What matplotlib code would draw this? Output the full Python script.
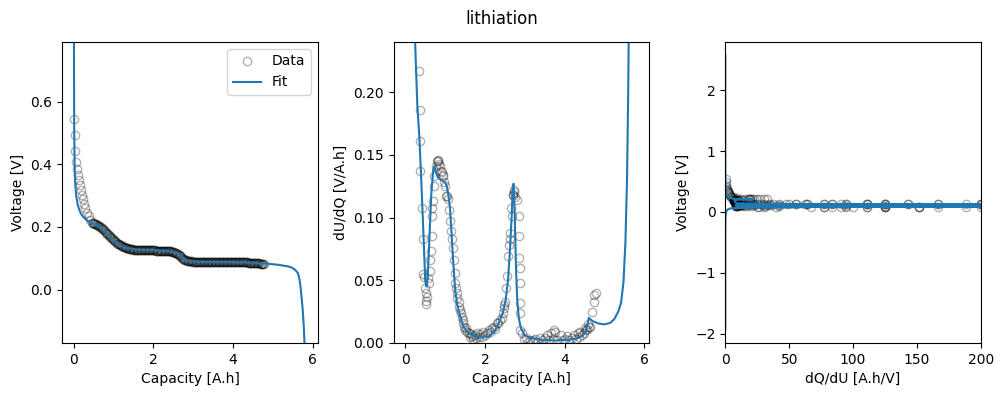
import numpy as np
import matplotlib.pyplot as plt

# measured OCP data (capacity [A.h], voltage [V])
data_capacity = [
    0.00, 0.025, 0.025, 0.05, 0.075, 0.11, 0.134, 0.16, 0.175, 0.20, 0.226, 0.26, 0.29, 0.33, 0.37, 0.41,
    0.46, 0.48, 0.50, 0.52, 0.54, 0.56, 0.58, 0.60, 0.62, 0.64,
    0.66, 0.68, 0.70, 0.72, 0.74, 0.76, 0.78, 0.80, 0.82, 0.84,
    0.86, 0.88, 0.90, 0.92, 0.94, 0.96, 0.98, 1.00, 1.02, 1.04,
    1.06, 1.08, 1.10, 1.12, 1.14, 1.16, 1.18, 1.20, 1.22, 1.24,
    1.26, 1.28, 1.30, 1.32, 1.34, 1.36, 1.38, 1.40, 1.42, 1.44,
    1.46, 1.48, 1.50, 1.52, 1.54, 1.56, 1.58, 1.60, 1.62, 1.64,
    1.66, 1.68, 1.70, 1.72, 1.74, 1.76, 1.78, 1.80, 1.82, 1.84,
    1.86, 1.88, 1.90, 1.92, 1.94, 1.96, 1.98, 2.00, 2.02, 2.04,
    2.06, 2.08, 2.10, 2.12, 2.14, 2.16, 2.18, 2.20, 2.22, 2.24,
    2.26, 2.28, 2.30, 2.32, 2.34, 2.36, 2.38, 2.40, 2.42, 2.44,
    2.46, 2.48, 2.50, 2.52, 2.54, 2.56, 2.58, 2.60, 2.62, 2.64,
    2.66, 2.68, 2.70, 2.72, 2.74, 2.76, 2.78, 2.80, 2.82, 2.84,
    2.86, 2.88, 2.90, 2.92, 2.94, 2.96, 2.98, 3.00, 3.02, 3.04,
    3.06, 3.08, 3.10, 3.12, 3.14, 3.16, 3.18, 3.20, 3.22, 3.24,
    3.26, 3.28, 3.30, 3.32, 3.34, 3.36, 3.38, 3.40, 3.42, 3.44,
    3.46, 3.48, 3.50, 3.52, 3.54, 3.56, 3.58, 3.60, 3.62, 3.64,
    3.66, 3.68, 3.70, 3.72, 3.74, 3.76, 3.78, 3.80, 3.82, 3.84,
    3.86, 3.88, 3.90, 3.92, 3.94, 3.96, 3.98, 4.00, 4.02, 4.04,
    4.06, 4.08, 4.10, 4.12, 4.14, 4.16, 4.18, 4.20, 4.22, 4.24,
    4.26, 4.28, 4.30, 4.32, 4.34, 4.36, 4.38, 4.40, 4.42, 4.44,
    4.46, 4.48, 4.50, 4.52, 4.54, 4.56, 4.58, 4.60, 4.62, 4.64,
    4.66, 4.68, 4.70, 4.72, 4.74, 4.76, 4.78,
]
data_voltage = [
    0.545, 0.494, 0.441, 0.406, 0.384, 0.366, 0.350, 0.334, 0.318, 0.302, 0.289, 0.274, 0.260, 0.246, 0.234, 0.223,
    0.214, 0.212, 0.211, 0.210, 0.209, 0.208, 0.207, 0.206, 0.204, 0.203,
    0.201, 0.199, 0.197, 0.195, 0.192, 0.189, 0.186, 0.184, 0.181, 0.179,
    0.176, 0.174, 0.171, 0.169, 0.166, 0.164, 0.161, 0.159, 0.156, 0.154,
    0.151, 0.149, 0.147, 0.145, 0.144, 0.142, 0.141, 0.139, 0.138, 0.137,
    0.136, 0.135, 0.134, 0.133, 0.132, 0.132, 0.131, 0.131, 0.130, 0.130,
    0.129, 0.129, 0.128, 0.128, 0.128, 0.128, 0.127, 0.127, 0.127, 0.127,
    0.126, 0.126, 0.126, 0.126, 0.126, 0.126, 0.125, 0.125, 0.125, 0.125,
    0.125, 0.125, 0.125, 0.125, 0.125, 0.125, 0.125, 0.125, 0.125, 0.125,
    0.124, 0.124, 0.124, 0.124, 0.124, 0.124, 0.124, 0.124, 0.124, 0.124,
    0.124, 0.124, 0.123, 0.123, 0.123, 0.123, 0.122, 0.122, 0.122, 0.122,
    0.121, 0.121, 0.120, 0.119, 0.118, 0.117, 0.116, 0.115, 0.113, 0.111,
    0.109, 0.107, 0.104, 0.101, 0.099, 0.097, 0.095, 0.094, 0.093, 0.092,
    0.091, 0.091, 0.090, 0.090, 0.090, 0.090, 0.089, 0.089, 0.089, 0.089,
    0.089, 0.089, 0.089, 0.089, 0.089, 0.089, 0.089, 0.089, 0.089, 0.089,
    0.089, 0.089, 0.089, 0.089, 0.089, 0.089, 0.089, 0.089, 0.088, 0.088,
    0.088, 0.088, 0.088, 0.088, 0.088, 0.088, 0.088, 0.088, 0.088, 0.088,
    0.088, 0.088, 0.088, 0.088, 0.088, 0.088, 0.088, 0.088, 0.088, 0.088,
    0.088, 0.088, 0.088, 0.088, 0.088, 0.088, 0.087, 0.087, 0.087, 0.087,
    0.087, 0.087, 0.087, 0.087, 0.087, 0.087, 0.087, 0.087, 0.087, 0.087,
    0.087, 0.087, 0.087, 0.087, 0.087, 0.087, 0.086, 0.086, 0.086, 0.086,
    0.086, 0.086, 0.086, 0.086, 0.085, 0.085, 0.085, 0.085, 0.084, 0.084,
    0.084, 0.083, 0.083, 0.083, 0.082, 0.082, 0.081,
]

# differential data: capacity, dU/dQ [V/A.h] and the voltage at that point
diff_capacity = [
    0.00, 0.025, 0.03, 0.05, 0.09, 0.11, 0.13, 0.16, 0.17, 0.19, 0.21, 0.26, 0.30,
    0.345, 0.362, 0.365, 0.378, 0.413, 0.446, 0.446, 0.479, 0.49, 0.52, 0.52, 0.525, 0.54, 0.58, 0.60,
    0.622, 0.625, 0.647, 0.664, 0.664, 0.68, 0.706, 0.72, 0.73, 0.765, 0.80, 0.815, 0.83, 0.85, 0.874,
    0.90, 0.916, 0.94, 0.958, 0.98, 1.00, 1.02, 1.04, 1.07, 1.10, 1.13, 1.15, 1.17, 1.185, 1.21, 1.235,
    1.25, 1.27, 1.29, 1.31, 1.34, 1.36, 1.38, 1.40, 1.42, 1.44, 1.46, 1.48, 1.50, 1.53, 1.56, 1.59,
    1.62, 1.65, 1.67, 1.70, 1.74, 1.77, 1.80, 1.84, 1.88, 1.92, 1.96, 2.00, 2.05, 2.09, 2.13, 2.17,
    2.22, 2.26, 2.30, 2.34, 2.38, 2.43, 2.45, 2.47, 2.49, 2.51, 2.53, 2.55, 2.57, 2.60, 2.62, 2.64,
    2.655, 2.68, 2.70, 2.71, 2.72, 2.73, 2.76, 2.81, 2.85, 2.85, 2.85, 2.87, 2.87, 2.89, 2.89, 2.89,
    2.93, 2.97, 3.02, 3.08, 3.14, 3.20, 3.26, 3.32, 3.39, 3.45, 3.52, 3.56, 3.60, 3.65, 3.70, 3.73,
    3.77, 3.82, 3.90, 3.95, 4.00, 4.06, 4.12, 4.18, 4.23, 4.28, 4.33, 4.37, 4.40, 4.44, 4.48, 4.52,
    4.55, 4.57, 4.60, 4.62, 4.65, 4.69, 4.74, 4.745, 4.78,
]
diff_dudq = [
    2.2, 2.0, 1.6, 1.1, 0.75, 0.65, 0.55, 0.48, 0.42, 0.38, 0.33, 0.29, 0.26,
    0.217, 0.186, 0.161, 0.137, 0.108, 0.0825, 0.0546, 0.0527, 0.044, 0.040, 0.0333, 0.031, 0.037, 0.052, 0.048,
    0.057, 0.066, 0.073, 0.085, 0.101, 0.108, 0.113, 0.125, 0.133, 0.141, 0.145, 0.146, 0.145, 0.143, 0.141,
    0.137, 0.136, 0.134, 0.133, 0.128, 0.125, 0.117, 0.117, 0.115, 0.106, 0.097, 0.089, 0.0825, 0.076, 0.0665, 0.056,
    0.048, 0.044, 0.040, 0.036, 0.033, 0.029, 0.0266, 0.024, 0.021, 0.018, 0.016, 0.013, 0.0106, 0.012, 0.009, 0.008,
    0.005, 0.007, 0.0053, 0.003, 0.006, 0.004, 0.008, 0.005, 0.007, 0.005, 0.009, 0.006, 0.008, 0.0106, 0.009, 0.012,
    0.013, 0.011, 0.0157, 0.0157, 0.018, 0.020, 0.024, 0.028, 0.030, 0.033, 0.044, 0.053, 0.069, 0.078, 0.0825, 0.088,
    0.108, 0.101, 0.118, 0.118, 0.122, 0.120, 0.116, 0.114, 0.101, 0.085, 0.068, 0.060, 0.048, 0.032, 0.024, 0.0106,
    0.008, 0.003, 0.004, 0.001, 0.0026, 0.002, 0.003, 0.001, 0.004, 0.002, 0.004, 0.0066, 0.002, 0.008, 0.003, 0.0106,
    0.009, 0.002, 0.0066, 0.002, 0.003, 0.0053, 0.002, 0.004, 0.0066, 0.003, 0.008, 0.005, 0.009, 0.006, 0.008, 0.012,
    0.010, 0.011, 0.015, 0.013, 0.013, 0.025, 0.033, 0.038, 0.040,
]
diff_voltage = [
    0.545, 0.494, 0.441, 0.406, 0.380, 0.366, 0.352, 0.334, 0.320, 0.305, 0.289, 0.272, 0.258,
    0.242, 0.238, 0.236, 0.232, 0.226, 0.220, 0.219, 0.216, 0.215, 0.213, 0.212, 0.212, 0.210, 0.208, 0.207,
    0.206, 0.205, 0.203, 0.202, 0.201, 0.200, 0.198, 0.196, 0.195, 0.191, 0.188, 0.186, 0.184, 0.182, 0.179,
    0.176, 0.174, 0.171, 0.168, 0.166, 0.163, 0.161, 0.158, 0.154, 0.150, 0.147, 0.145, 0.143, 0.142, 0.140, 0.138,
    0.137, 0.136, 0.135, 0.134, 0.133, 0.132, 0.131, 0.131, 0.130, 0.130, 0.129, 0.129, 0.128, 0.128, 0.128, 0.127,
    0.127, 0.127, 0.126, 0.126, 0.126, 0.126, 0.125, 0.125, 0.125, 0.125, 0.125, 0.125, 0.125, 0.124, 0.124, 0.124,
    0.124, 0.124, 0.123, 0.123, 0.122, 0.122, 0.121, 0.121, 0.120, 0.120, 0.119, 0.118, 0.117, 0.115, 0.113, 0.111,
    0.110, 0.108, 0.106, 0.105, 0.104, 0.103, 0.100, 0.096, 0.093, 0.093, 0.092, 0.092, 0.091, 0.091, 0.090, 0.090,
    0.090, 0.090, 0.089, 0.089, 0.089, 0.089, 0.089, 0.089, 0.089, 0.088, 0.088, 0.088, 0.088, 0.088, 0.088, 0.088,
    0.088, 0.088, 0.088, 0.088, 0.087, 0.087, 0.087, 0.087, 0.087, 0.087, 0.087, 0.087, 0.086, 0.086, 0.086, 0.086,
    0.085, 0.085, 0.085, 0.085, 0.084, 0.083, 0.082, 0.082, 0.081,
]

# fitted OCP curve: capacity, voltage and dU/dQ
fit_capacity = [
    0.000, 0.0005, 0.002, 0.005, 0.010, 0.020, 0.035, 0.06, 0.10, 0.15, 0.20, 0.25, 0.30, 0.35, 0.40,
    0.45, 0.50, 0.53, 0.56, 0.60, 0.65, 0.70, 0.73, 0.76, 0.80, 0.85, 0.90, 0.95, 1.00, 1.04, 1.08,
    1.12, 1.16, 1.20, 1.25, 1.30, 1.38, 1.46, 1.55, 1.70, 1.90, 2.10, 2.25, 2.35, 2.45, 2.52, 2.58,
    2.63, 2.67, 2.70, 2.72, 2.75, 2.78, 2.81, 2.85, 2.90, 3.00, 3.15, 3.40, 3.80, 4.10, 4.30, 4.45,
    4.53, 4.58, 4.61, 4.70, 4.85, 5.00, 5.15, 5.25, 5.35, 5.42, 5.48, 5.53, 5.57, 5.60, 5.63, 5.66,
    5.69, 5.72, 5.75, 5.78, 5.80, 5.82, 5.83, 5.835, 5.84,
]
fit_voltage = [
    2.57, 1.60, 1.00, 0.70, 0.52, 0.40, 0.34, 0.30, 0.27, 0.25, 0.238, 0.230, 0.224, 0.219, 0.215,
    0.212, 0.209, 0.208, 0.206, 0.204, 0.201, 0.196, 0.192, 0.188, 0.183, 0.177, 0.171, 0.164, 0.158, 0.153, 0.148,
    0.144, 0.141, 0.138, 0.136, 0.134, 0.132, 0.130, 0.128, 0.127, 0.126, 0.125, 0.124, 0.123, 0.121, 0.119, 0.117,
    0.113, 0.109, 0.106, 0.103, 0.100, 0.097, 0.095, 0.093, 0.091, 0.090, 0.089, 0.088, 0.088, 0.087, 0.087, 0.086,
    0.086, 0.085, 0.085, 0.084, 0.083, 0.081, 0.079, 0.077, 0.075, 0.073, 0.070, 0.066, 0.062, 0.058, 0.053, 0.040,
    0.018, -0.02, -0.06, -0.12, -0.18, -0.35, -0.70, -1.20, -1.93,
]
fit_dudq = [
    400, 150, 60, 25, 10, 4.0, 2.0, 1.1, 0.7, 0.45, 0.32, 0.235, 0.19, 0.165, 0.13,
    0.09, 0.050, 0.045, 0.052, 0.080, 0.118, 0.138, 0.141, 0.137, 0.133, 0.131, 0.130, 0.129, 0.128, 0.125, 0.118,
    0.108, 0.088, 0.066, 0.043, 0.031, 0.021, 0.013, 0.009, 0.006, 0.005, 0.005, 0.010, 0.016, 0.024, 0.034, 0.050,
    0.075, 0.100, 0.125, 0.127, 0.100, 0.060, 0.035, 0.020, 0.012, 0.006, 0.004, 0.0025, 0.002, 0.0025, 0.0035, 0.006,
    0.009, 0.015, 0.020, 0.0175, 0.0155, 0.0148, 0.016, 0.019, 0.025, 0.032, 0.048, 0.080, 0.130, 0.20, 0.30, 0.55,
    1.0, 2.0, 4.0, 8.0, 20, 60, 150, 300, 400,
]

data_style = dict(marker="o", linestyle="none", color="k", alpha=0.3, fillstyle="none")

fig, axes = plt.subplots(1, 3, figsize=(10.03, 3.96))
fig.subplots_adjust(left=0.062, right=0.978, top=0.894, bottom=0.134, wspace=0.297)

# voltage vs capacity
ax = axes[0]
ax.plot(data_capacity, data_voltage, label="Data", **data_style)
ax.plot(fit_capacity, fit_voltage, color="tab:blue", label="Fit")
ax.set_ylim(-0.17, 0.79)
ax.set_xlabel("Capacity [A.h]")
ax.set_ylabel("Voltage [V]")
ax.legend(loc="upper right")

# differential voltage
ax = axes[1]
ax.plot(diff_capacity, diff_dudq, **data_style)
ax.plot(fit_capacity, fit_dudq, color="tab:blue")
ax.set_ylim(0, 0.24)
ax.set_xlabel("Capacity [A.h]")
ax.set_ylabel("dU/dQ [V/A.h]")

# differential capacity
ax = axes[2]
ax.plot(1 / np.array(diff_dudq), diff_voltage, **data_style)
ax.plot(1 / np.array(fit_dudq), fit_voltage, color="tab:blue")
ax.set_xlim(0, 200)
ax.set_xlabel("dQ/dU [A.h/V]")
ax.set_ylabel("Voltage [V]")

fig.suptitle("lithiation", y=0.975)
plt.savefig("out.png", dpi=100)
